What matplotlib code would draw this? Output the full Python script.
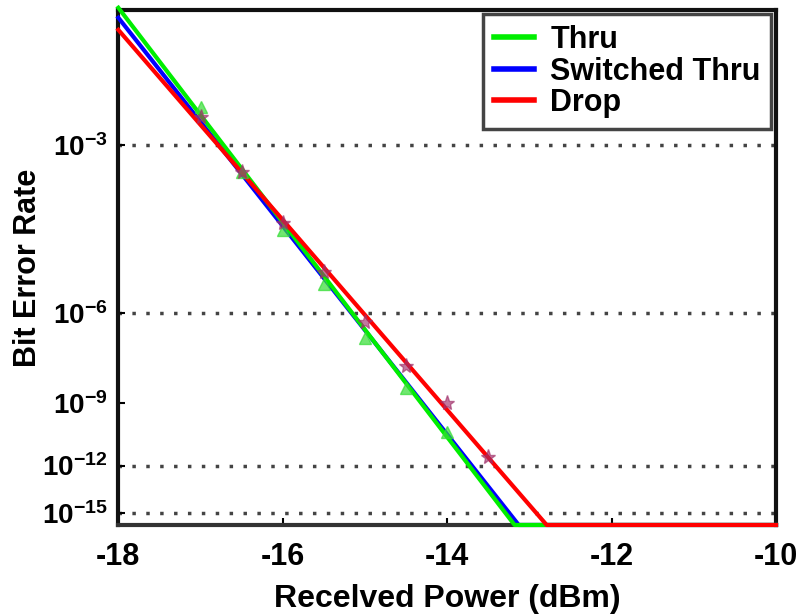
import numpy as np
import matplotlib
matplotlib.use('Agg')
from matplotlib import pyplot as plt

plt.rcParams['font.family'] = ['Liberation Sans', 'DejaVu Sans']
plt.rcParams['font.weight'] = 'bold'
plt.rcParams['mathtext.fontset'] = 'custom'
plt.rcParams['mathtext.rm'] = 'Liberation Sans:bold'
plt.rcParams['mathtext.it'] = 'Liberation Sans:bold'
plt.rcParams['mathtext.bf'] = 'Liberation Sans:bold'

# BER is written as exponent n, i.e. BER = 10^-n
# fitted lines (start, reaches the floor, end of axis)
THRU_P = [-18, -13.18, -10]
THRU_N = [1.865, 15.88, 15.88]
SWITCHED_P = [-18, -13.13, -10]
SWITCHED_N = [1.924, 15.88, 15.88]
DROP_P = [-18, -12.79, -10]
DROP_N = [2.0, 15.88, 15.88]

# measured points
THRU_PTS_P = [-17, -16.5, -16, -15.5, -15, -14.5, -14]
THRU_PTS_N = [2.61, 3.33, 4.21, 5.29, 6.70, 8.39, 10.26]
DROP_PTS_P = [-17, -16.5, -16, -15.5, -15, -14.5, -14, -13.5]
DROP_PTS_N = [2.70, 3.33, 4.09, 5.02, 6.24, 7.59, 8.98, 11.53]

YTICK_N = [3, 6, 9, 12, 15]
GRID_N = [3, 6, 12, 15]
YLIM_N = [1.877, 15.88]


def tr(n):
    # log-log BER scale of the original plot
    return -np.log10(np.array(n, dtype=float) - 0.7)


fig = plt.figure(figsize=(8.05, 6.14), dpi=100)
ax = fig.add_axes([0.147, 0.145, 0.817, 0.839])

for Y in GRID_N:
    ax.axhline(tr(Y), color='#444444', linestyle=(0, (1, 3)), linewidth=2.5, zorder=1)

ax.plot(SWITCHED_P, tr(SWITCHED_N), color='#0000ff', linewidth=3, label='Switched Thru',
        clip_on=False, zorder=3)
ax.plot(THRU_P, tr(THRU_N), color='#00ee00', linewidth=3, label='Thru',
        clip_on=False, zorder=3.1)
ax.plot(DROP_P, tr(DROP_N), color='#ff0000', linewidth=3, label='Drop',
        clip_on=False, zorder=3.2)

ax.plot(THRU_PTS_P, tr(THRU_PTS_N), linestyle='none', marker='^', markersize=8,
        color='#33dd33', alpha=0.7, zorder=4)
ax.plot(DROP_PTS_P, tr(DROP_PTS_N), linestyle='none', marker='*', markersize=11,
        color='#a0306a', alpha=0.65, zorder=4)

ax.set_xlim(-18, -10)
ax.set_ylim(tr(YLIM_N[1]), tr(YLIM_N[0]))
ax.set_xticks([-18, -16, -14, -12, -10])
ax.set_xticklabels(['-18', '-16', '-14', '-12', '-10'])
ax.set_yticks(tr(YTICK_N))
ax.set_yticklabels(['$10^{-%d}$' % Y for Y in YTICK_N])
ax.tick_params(direction='in', length=5, width=1.5)
ax.tick_params(axis='x', pad=12, labelsize=22)
ax.tick_params(axis='y', pad=8, labelsize=20)

for S in ax.spines.values():
    S.set_linewidth(3)
    S.set_color('#111111')
ax.spines['bottom'].set_color('#333333')

ax.set_xlabel('Recelved Power (dBm)', fontsize=23, fontweight='bold', labelpad=9)
ax.set_ylabel('Bit Error Rate', fontsize=22, fontweight='bold')
ax.yaxis.set_label_coords(-0.115, 0.5)

H, L = ax.get_legend_handles_labels()
order = [1, 0, 2]
leg = ax.legend([H[i] for i in order], [L[i] for i in order], loc='upper right',
                fontsize=22, fancybox=False, framealpha=1, edgecolor='#444444',
                handlelength=1.3, handletextpad=0.55, borderaxespad=0.15,
                labelspacing=0.05, borderpad=0.35)
leg.get_frame().set_linewidth(2.5)
for LN in leg.get_lines():
    LN.set_linewidth(4)

plt.savefig('out.png', dpi=100)
